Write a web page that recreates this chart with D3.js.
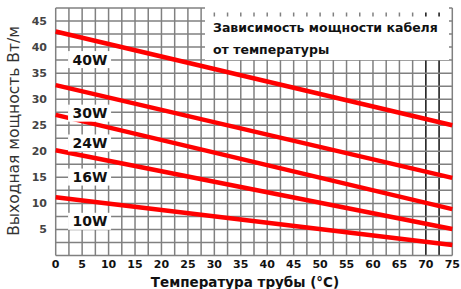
<!DOCTYPE html>
<html>
<head>
<meta charset="utf-8">
<script src="https://cdn.jsdelivr.net/npm/d3@7"></script>
<style>
  body { margin: 0; background: #fff; }
  svg { display: block; }
</style>
</head>
<body>
<svg id="chart" width="461" height="289"></svg>
<script>
// temperature points (°C)
var temps = [0, 75];
// cable power series, W/m at each temperature
var names = ["40W", "30W", "24W", "16W", "10W"];
var p40 = [43.0, 25.0];
var p30 = [32.7, 14.9];
var p24 = [27.0, 8.9];
var p16 = [20.2, 5.1];
var p10 = [11.2, 2.0];
var series = [p40, p30, p24, p16, p10];

var xTicks = d3.range(0, 76, 5);
var yTicks = [5, 10, 15, 20, 25, 30, 35, 40, 45];
var title = ["Зависимость мощности кабеля", "от температуры"];
var xTitle = "Температура трубы (°C)";
var yTitle = "Выходная мощность Вт/м";

var svg = d3.select("#chart");

var x = d3.scaleLinear().domain([0, 75]).range([55.7, 452.3]);
var y = d3.scaleLinear().domain([0, 47.5]).range([255.5, 8]);

// grid every 2.5
var grid = svg.append("g");
grid.selectAll(".v").data(d3.range(0, 75.1, 2.5))
  .enter().append("line")
  .attr("x1", d => x(d)).attr("x2", d => x(d))
  .attr("y1", y(0)).attr("y2", y(47.5))
  .attr("stroke", d => (d == 70 || d == 72.5) ? "#111" : "#808080")
  .attr("stroke-width", 1.5);
grid.selectAll(".h").data(d3.range(0, 47.6, 2.5))
  .enter().append("line")
  .attr("x1", x(0)).attr("x2", x(75))
  .attr("y1", d => y(d)).attr("y2", d => y(d))
  .attr("stroke", "#808080")
  .attr("stroke-width", 1.5);

// title box on top of grid
svg.append("rect").attr("x", 205).attr("y", 5).attr("width", 244).attr("height", 7.5).attr("fill", "#fff");
svg.append("rect").attr("x", 205).attr("y", 16.5).attr("width", 244).attr("height", 43.5).attr("fill", "#fff");
svg.selectAll(".ttl").data(title)
  .enter().append("text")
  .attr("x", 213).attr("y", (d, i) => 32 + i * 22)
  .style("font", "bold 12.5px 'DejaVu Sans'")
  .attr("fill", "#111")
  .text(d => d);

// power lines
var line = d3.line()
  .x((d, i) => x(temps[i]))
  .y(d => y(d));

svg.selectAll(".pw").data(series)
  .enter().append("path")
  .attr("d", line)
  .attr("fill", "none")
  .attr("stroke", "#ff0000")
  .attr("stroke-width", 4.5);

// labels under each line
var labX = 6.5;
var lab = svg.selectAll(".lab").data(series)
  .enter().append("g")
  .attr("transform", function (d) {
    var v = d[0] + (d[1] - d[0]) * (labX - temps[0]) / (temps[1] - temps[0]);
    return "translate(" + x(labX) + "," + (y(v) + 20) + ")";
  });
lab.append("rect")
  .attr("x", -22).attr("y", -8.5).attr("width", 43).attr("height", 17)
  .attr("fill", "#fff");
lab.append("text")
  .attr("text-anchor", "middle").attr("dy", "0.36em")
  .style("font", "bold 14px 'DejaVu Sans'")
  .attr("fill", "#111")
  .text((d, i) => names[i]);

// tick labels
svg.selectAll(".xt").data(xTicks)
  .enter().append("text")
  .attr("x", d => x(d)).attr("y", 268)
  .attr("text-anchor", "middle")
  .style("font", "bold 11px 'DejaVu Sans'")
  .attr("fill", "#111")
  .text(d => d);
svg.selectAll(".yt").data(yTicks)
  .enter().append("text")
  .attr("x", 47).attr("y", d => y(d)).attr("dy", "0.35em")
  .attr("text-anchor", "end")
  .style("font", "bold 11px 'DejaVu Sans'")
  .attr("fill", "#444")
  .text(d => d);

// axis titles
svg.append("text")
  .attr("x", 245).attr("y", 287)
  .attr("text-anchor", "middle")
  .style("font", "bold 13.5px 'DejaVu Sans'")
  .attr("fill", "#111")
  .text(xTitle);
svg.append("text")
  .attr("transform", "translate(19,131) rotate(-90)")
  .attr("text-anchor", "middle")
  .style("font", "15.5px 'DejaVu Sans'")
  .attr("fill", "#333")
  .text(yTitle);
</script>
</body>
</html>
